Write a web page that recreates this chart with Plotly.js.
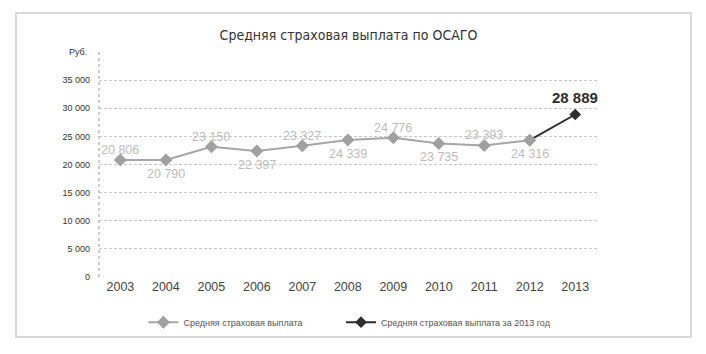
<!DOCTYPE html>
<html><head><meta charset="utf-8">
<script src="https://cdn.plot.ly/plotly-3.0.1.min.js"></script>
<style>
html,body{margin:0;padding:0;background:#fff;}
#wrap{position:relative;width:706px;height:354px;}
#frame{position:absolute;left:15px;top:12px;width:673px;height:322px;border:2px solid #d9d9d9;pointer-events:none;}
#chart{position:absolute;left:0;top:0;width:706px;height:354px;}
</style></head>
<body><div id="wrap"><div id="chart"></div><div id="frame"></div></div>
<script>
const years = [2003, 2004, 2005, 2006, 2007, 2008, 2009, 2010, 2011, 2012];
const payouts = [20806, 20790, 23150, 22397, 23327, 24339, 24776, 23735, 23393, 24316];
const labelAbove = [true, false, true, false, true, false, true, false, true, false];
const years2013 = [2012, 2013];
const payouts2013 = [24316, 28889];
const yTicks = [0, 5000, 10000, 15000, 20000, 25000, 30000, 35000];
const xTicks = [2003, 2004, 2005, 2006, 2007, 2008, 2009, 2010, 2011, 2012, 2013];
const seriesNames = ['Средняя страховая выплата', 'Средняя страховая выплата за 2013 год'];
const titleText = 'Средняя страховая выплата по ОСАГО';
const unitLabel = 'Руб.';

const fmt = v => String(v).replace(/\B(?=(\d{3})+(?!\d))/g, ' ');

const traces = [
  {
    x: years2013, y: payouts2013, mode: 'lines+markers', name: seriesNames[1], legend: 'legend2',
    line: {color: '#2e2e2e', width: 2},
    marker: {symbol: 'diamond', size: 9, color: '#2e2e2e'},
    hoverinfo: 'skip'
  },
  {
    x: years, y: payouts, mode: 'lines+markers', name: seriesNames[0], legend: 'legend',
    line: {color: '#a6a6a6', width: 2},
    marker: {symbol: 'diamond', size: 10, color: '#a0a0a0'},
    hoverinfo: 'skip'
  }
];

const labelFont = {family: 'Liberation Sans, Arial, sans-serif', size: 12.5, color: '#bcbcbc'};
const annotations = years.map((yr, i) => ({
  x: yr, y: payouts[i], xref: 'x', yref: 'y', text: fmt(payouts[i]), showarrow: false,
  yanchor: labelAbove[i] ? 'bottom' : 'top', yshift: labelAbove[i] ? 1 : -5, font: labelFont
}));
annotations.push({
  x: years2013[1], y: payouts2013[1], xref: 'x', yref: 'y', text: '<b>' + fmt(payouts2013[1]) + '</b>', showarrow: false,
  yanchor: 'bottom', yshift: 7, font: {family: 'Liberation Sans, Arial, sans-serif', size: 15, color: '#2e2e2e'}
});
annotations.push({text: unitLabel, xref: 'paper', yref: 'paper', x: 0, y: 1, xanchor: 'right', yanchor: 'middle', xshift: -10, showarrow: false,
     font: {family: 'Liberation Sans, Arial, sans-serif', size: 9, color: '#333'}});

const legendFont = {family: 'Liberation Sans, Arial, sans-serif', size: 9, color: '#555'};
const layout = {
  width: 706, height: 354,
  paper_bgcolor: 'rgba(0,0,0,0)', plot_bgcolor: 'rgba(0,0,0,0)',
  separators: ', ',
  margin: {l: 99, r: 108, t: 52, b: 77},
  title: {text: titleText, x: 0.5, xref: 'paper', xanchor: 'center', y: 0.9, yref: 'container', yanchor: 'middle',
          font: {family: 'DejaVu Sans Condensed, Liberation Sans Narrow, sans-serif', size: 14, color: '#333'}},
  xaxis: {range: [2002.53, 2013.5], tickvals: xTicks, ticktext: xTicks.map(String), showgrid: false, zeroline: false, showline: false,
          ticks: '', tickfont: {family: 'Liberation Sans, Arial, sans-serif', size: 12.5, color: '#444'}},
  yaxis: {range: [0, 40000], tickvals: yTicks, tickformat: ',d', showgrid: true, gridcolor: '#c8c8c8', griddash: '3px,2px', gridwidth: 1,
          zeroline: false, showline: false, ticks: '', ticklabelstandoff: 8,
          tickfont: {family: 'Liberation Sans, Arial, sans-serif', size: 9, color: '#333'}},
  shapes: [
    {type: 'line', xref: 'paper', yref: 'paper', x0: 0, x1: 0, y0: 0, y1: 1, line: {color: '#9a9a9a', width: 1, dash: 'dot'}}
  ],
  annotations: annotations,
  showlegend: true,
  legend: {orientation: 'h', x: 0.089, xanchor: 'left', y: 0.09, yref: 'container', yanchor: 'middle', xref: 'paper',
           font: legendFont, bgcolor: 'rgba(0,0,0,0)'},
  legend2: {orientation: 'h', x: 0.485, xanchor: 'left', y: 0.09, yref: 'container', yanchor: 'middle', xref: 'paper',
           font: legendFont, bgcolor: 'rgba(0,0,0,0)'}
};

Plotly.newPlot('chart', traces, layout, {displayModeBar: false, staticPlot: true});
</script></body></html>
